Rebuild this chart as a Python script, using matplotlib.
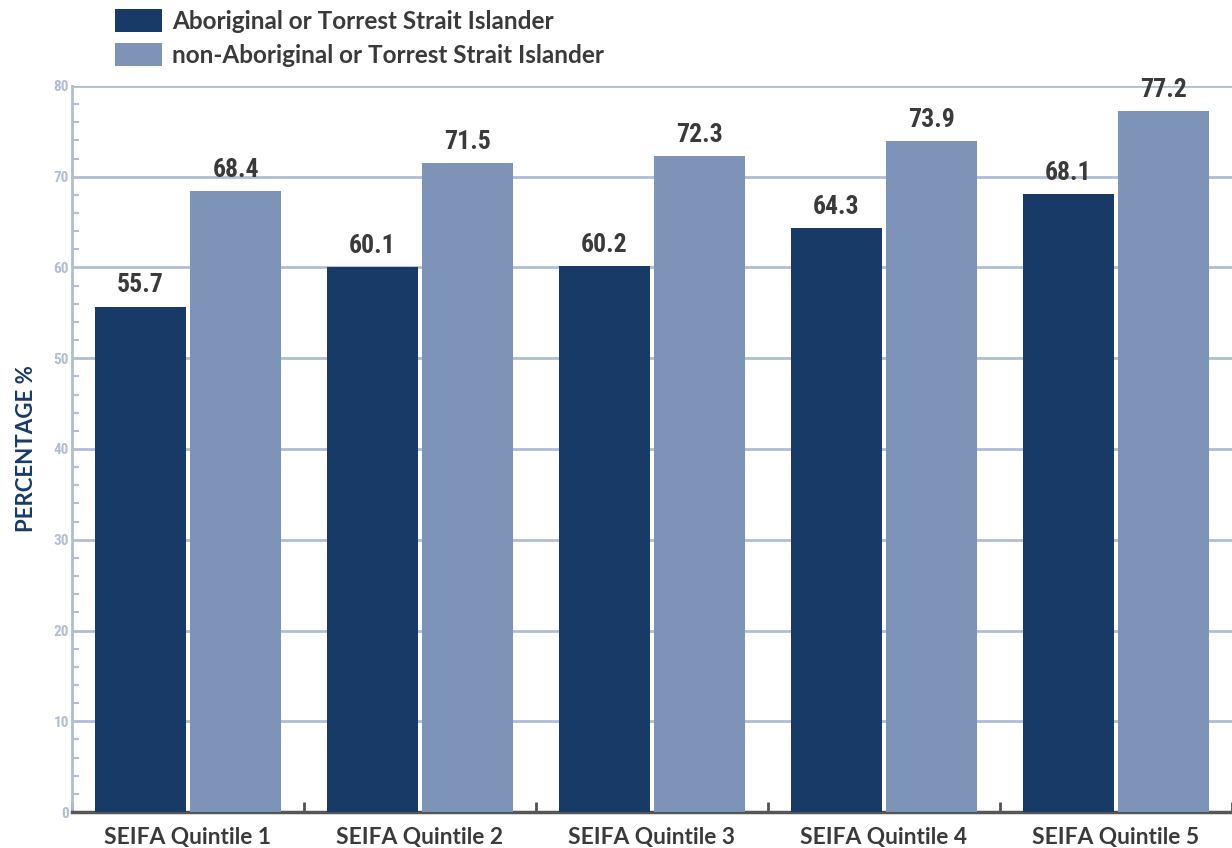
import matplotlib
matplotlib.use("Agg")
import matplotlib.pyplot as plt
from matplotlib.ticker import MultipleLocator
import numpy as np

# Datos
categorias = ["SEIFA Quintile 1", "SEIFA Quintile 2", "SEIFA Quintile 3",
              "SEIFA Quintile 4", "SEIFA Quintile 5"]
aborigen = [55.7, 60.1, 60.2, 64.3, 68.1]
no_aborigen = [68.4, 71.5, 72.3, 73.9, 77.2]
series = ["Aboriginal or Torrest Strait Islander",
          "non-Aboriginal or Torrest Strait Islander"]

# Estilos
c_oscuro = "#173a67"
c_claro = "#7e93b8"
c_grid = "#b0bdd3"
c_texto = "#3a3a3a"
f_cond = ["Roboto Condensed", "Asap Condensed", "Archivo Narrow", "DejaVu Sans"]
f_texto = ["Lato", "DejaVu Sans"]

fig = plt.figure(figsize=(12.32, 8.48), dpi=100)
ax = fig.add_axes([72 / 1232, 1 - 812 / 848, 1 - 72 / 1232, (812 - 86) / 848])

x = np.arange(len(categorias))
ancho = 0.392
desp = 0.205
b1 = ax.bar(x - desp, aborigen, ancho, color=c_oscuro, zorder=3, label=series[0])
b2 = ax.bar(x + desp, no_aborigen, ancho, color=c_claro, zorder=3, label=series[1])

# Etiquetas de valores
for barras in (b1, b2):
    for b in barras:
        ax.text(b.get_x() + b.get_width() / 2, b.get_height() + 1.0,
                f"{b.get_height():.1f}", ha="center", va="bottom",
                fontsize=18.5, fontweight="bold", family=f_cond,
                color=c_texto, zorder=4)

ax.set_ylim(0, 80)
ax.set_xlim(-0.5, 4.443)
ax.yaxis.set_major_locator(MultipleLocator(10))
ax.yaxis.set_minor_locator(MultipleLocator(2))
ax.grid(axis="y", color=c_grid, linewidth=2, zorder=0)
ax.set_axisbelow(True)

ax.set_xticks(x)
ax.set_xticklabels(categorias, fontsize=16.4, fontweight="bold", family=f_texto,
                   color=c_texto)
ax.set_xticks(np.arange(-0.5, 5, 1), minor=True)
ax.tick_params(axis="x", which="major", length=0, pad=11)
ax.tick_params(axis="x", which="minor", length=7, width=2, direction="in",
               color="#555555")
ax.tick_params(axis="y", which="major", length=0, pad=2, labelsize=11,
               labelcolor=c_grid)
ax.tick_params(axis="y", which="minor", length=5, width=1.5, direction="in",
               color=c_grid)
for lbl in ax.get_yticklabels():
    lbl.set_family(f_cond)
    lbl.set_fontweight("bold")

for s in ("top", "right"):
    ax.spines[s].set_visible(False)
ax.spines["left"].set_color(c_grid)
ax.spines["left"].set_linewidth(2)
ax.spines["bottom"].set_color("#555555")
ax.spines["bottom"].set_linewidth(2.5)

ax.set_ylabel("PERCENTAGE %", fontsize=16, fontweight="bold", family=f_texto,
              color=c_oscuro, labelpad=12)

fig.legend(handles=[b1, b2], labels=series, loc="upper left",
           bbox_to_anchor=(113 / 1232, 1 - 7 / 848), frameon=False,
           prop={"family": f_texto, "weight": "bold", "size": 17.5},
           labelcolor=c_texto, handlelength=1.93, handleheight=1.07,
           handletextpad=0.41, labelspacing=0.42, borderpad=0.1,
           borderaxespad=0)

fig.savefig("out.png", dpi=100)
